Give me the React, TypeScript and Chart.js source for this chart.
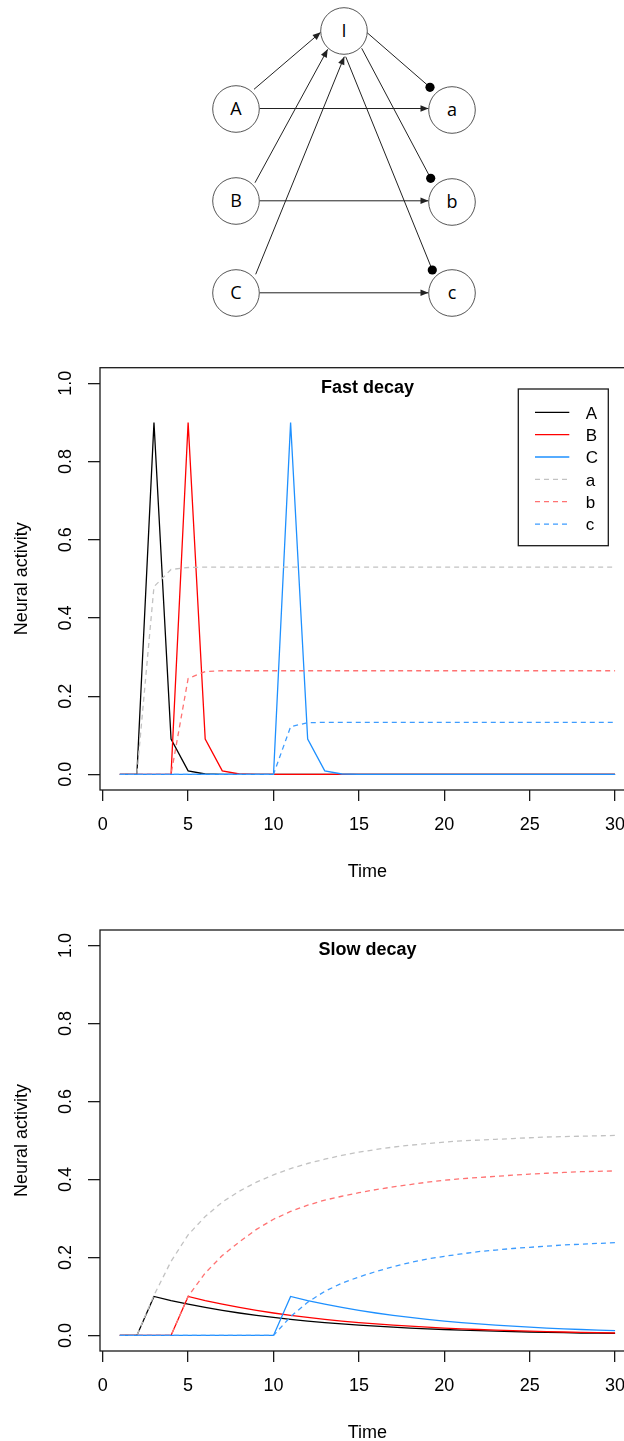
import React, { useEffect, useRef } from "react";
import { Chart, registerables } from "chart.js";

Chart.register(...registerables);

// ---------------- data ----------------
const TIME = [1, 2, 3, 4, 5, 6, 7, 8, 9, 10, 11, 12, 13, 14, 15, 16, 17, 18, 19, 20, 21, 22, 23, 24, 25, 26, 27, 28, 29, 30];
const X_TICKS = [0, 5, 10, 15, 20, 25, 30];
const Y_TICKS = [0, 0.2, 0.4, 0.6, 0.8, 1.0];
const SERIES_LABELS = ["A", "B", "C", "a", "b", "c"];
const X_TITLE = "Time";
const Y_TITLE = "Neural activity";
const FAST_TITLE = "Fast decay";
const SLOW_TITLE = "Slow decay";

const FAST_A = [0, 0, 0.9, 0.09, 0.009, 0.0009, 0.0001, 0, 0, 0, 0, 0, 0, 0, 0, 0, 0, 0, 0, 0, 0, 0, 0, 0, 0, 0, 0, 0, 0, 0];
const FAST_B = [0, 0, 0, 0, 0.9, 0.09, 0.009, 0.0009, 0.0001, 0, 0, 0, 0, 0, 0, 0, 0, 0, 0, 0, 0, 0, 0, 0, 0, 0, 0, 0, 0, 0];
const FAST_C = [0, 0, 0, 0, 0, 0, 0, 0, 0, 0, 0.9, 0.09, 0.009, 0.0009, 0.0001, 0, 0, 0, 0, 0, 0, 0, 0, 0, 0, 0, 0, 0, 0, 0];
const FAST_a = [0, 0, 0.48, 0.524, 0.529, 0.53, 0.53, 0.53, 0.53, 0.53, 0.53, 0.53, 0.53, 0.53, 0.53, 0.53, 0.53, 0.53, 0.53, 0.53, 0.53, 0.53, 0.53, 0.53, 0.53, 0.53, 0.53, 0.53, 0.53, 0.53];
const FAST_b = [0, 0, 0, 0, 0.245, 0.263, 0.265, 0.265, 0.265, 0.265, 0.265, 0.265, 0.265, 0.265, 0.265, 0.265, 0.265, 0.265, 0.265, 0.265, 0.265, 0.265, 0.265, 0.265, 0.265, 0.265, 0.265, 0.265, 0.265, 0.265];
const FAST_c = [0, 0, 0, 0, 0, 0, 0, 0, 0, 0, 0.122, 0.132, 0.133, 0.133, 0.133, 0.133, 0.133, 0.133, 0.133, 0.133, 0.133, 0.133, 0.133, 0.133, 0.133, 0.133, 0.133, 0.133, 0.133, 0.133];

const SLOW_A = [0, 0, 0.1, 0.0895, 0.0801, 0.0717, 0.0642, 0.0575, 0.0514, 0.046, 0.0412, 0.0369, 0.033, 0.0295, 0.0264, 0.0236, 0.0211, 0.0189, 0.0169, 0.0151, 0.0135, 0.0121, 0.0108, 0.0097, 0.0087, 0.0078, 0.007, 0.0062, 0.0056, 0.005];
const SLOW_B = [0, 0, 0, 0, 0.1, 0.0895, 0.0801, 0.0717, 0.0642, 0.0575, 0.0514, 0.046, 0.0412, 0.0369, 0.033, 0.0295, 0.0264, 0.0236, 0.0211, 0.0189, 0.0169, 0.0151, 0.0135, 0.0121, 0.0108, 0.0097, 0.0087, 0.0078, 0.007, 0.0062];
const SLOW_C = [0, 0, 0, 0, 0, 0, 0, 0, 0, 0, 0.1, 0.0895, 0.0801, 0.0717, 0.0642, 0.0575, 0.0514, 0.046, 0.0412, 0.0369, 0.033, 0.0295, 0.0264, 0.0236, 0.0211, 0.0189, 0.0169, 0.0151, 0.0135, 0.0121];
const SLOW_a = [0, 0, 0.103, 0.19, 0.258, 0.305, 0.342, 0.37, 0.393, 0.412, 0.428, 0.441, 0.452, 0.462, 0.47, 0.477, 0.483, 0.488, 0.492, 0.496, 0.499, 0.501, 0.503, 0.505, 0.507, 0.509, 0.51, 0.511, 0.512, 0.513];
const SLOW_b = [0, 0, 0, 0, 0.1, 0.16, 0.205, 0.24, 0.272, 0.298, 0.318, 0.334, 0.347, 0.357, 0.366, 0.374, 0.381, 0.387, 0.393, 0.398, 0.402, 0.405, 0.408, 0.411, 0.414, 0.416, 0.418, 0.42, 0.421, 0.422];
const SLOW_c = [0, 0, 0, 0, 0, 0, 0, 0, 0, 0, 0.048, 0.085, 0.113, 0.134, 0.15, 0.164, 0.176, 0.187, 0.196, 0.203, 0.209, 0.215, 0.219, 0.223, 0.226, 0.229, 0.232, 0.234, 0.236, 0.238];

// ---------------- styles ----------------
const SERIES_COLORS = ["#000000", "#ff0000", "#1e90ff", "#c2c2c2", "#ff7272", "#3d9cff"];
const SERIES_DASHED = [false, false, false, true, true, true];
const FONT = "'Liberation Sans', Arial, Helvetica, sans-serif";
const AXIS_COLOR = "#1a1a1a";

function makeDatasets(series: number[][]) {
  return series.map((vals, i) => ({
    label: SERIES_LABELS[i],
    data: TIME.map((t, j) => ({ x: t, y: vals[j] })),
    borderColor: SERIES_COLORS[i],
    backgroundColor: SERIES_COLORS[i],
    borderWidth: 1.3,
    borderDash: SERIES_DASHED[i] ? [5, 4] : [],
    pointRadius: 0,
    pointHoverRadius: 0,
    tension: 0,
    fill: false,
    order: 10 - i,
  }));
}

const rDecor = {
  id: "rDecor",
  afterDraw(chart: any, _args: any, opts: any) {
    const { ctx, chartArea: ca } = chart;
    ctx.save();
    ctx.strokeStyle = AXIS_COLOR;
    ctx.lineWidth = 1.3;
    ctx.strokeRect(ca.left, ca.top, ca.right - ca.left, ca.bottom - ca.top);

    const cx = (ca.left + ca.right) / 2;
    ctx.fillStyle = "#000";
    ctx.textAlign = "center";
    ctx.textBaseline = "alphabetic";
    ctx.font = `bold 18px ${FONT}`;
    ctx.fillText(opts.title, cx, ca.top + 25);

    ctx.font = `18px ${FONT}`;
    ctx.fillText(X_TITLE, cx, ca.bottom + 87);

    ctx.save();
    ctx.translate(27, (ca.top + ca.bottom) / 2);
    ctx.rotate(-Math.PI / 2);
    ctx.fillText(Y_TITLE, 0, 0);
    ctx.restore();

    if (opts.legend) {
      const boxL = ca.left + 418.3;
      const boxT = ca.top + 21.3;
      ctx.lineWidth = 1.3;
      ctx.strokeStyle = AXIS_COLOR;
      ctx.strokeRect(boxL, boxT, 90, 156.7);
      chart.data.datasets.forEach((ds: any, i: number) => {
        const y = boxT + 23.3 + i * 22.35;
        ctx.beginPath();
        ctx.setLineDash(ds.borderDash || []);
        ctx.strokeStyle = ds.borderColor;
        ctx.lineWidth = ds.borderWidth;
        ctx.moveTo(boxL + 16.7, y);
        ctx.lineTo(boxL + 51, y);
        ctx.stroke();
        ctx.setLineDash([]);
        ctx.fillStyle = "#000";
        ctx.textAlign = "left";
        ctx.font = `17px ${FONT}`;
        ctx.fillText(ds.label, boxL + 67.5, y + 6.3);
      });
    }
    ctx.restore();
  },
};

type DecayProps = {
  top: number;
  height: number;
  padTop: number;
  plotBottom: number;
  title: string;
  series: number[][];
  legend: boolean;
};

const CANVAS_W = 660;

function DecayChart({ top, height, padTop, plotBottom, title, series, legend }: DecayProps) {
  const ref = useRef<HTMLCanvasElement>(null);
  useEffect(() => {
    const chart = new Chart(ref.current as HTMLCanvasElement, {
      type: "line",
      data: { datasets: makeDatasets(series) as any },
      plugins: [rDecor],
      options: {
        animation: false,
        responsive: false,
        devicePixelRatio: 1,
        events: [],
        layout: { padding: { top: padTop, left: 0, right: 25.1, bottom: 0 } },
        plugins: {
          legend: { display: false },
          tooltip: { enabled: false },
          title: { display: false },
          rDecor: { title, legend },
        } as any,
        scales: {
          x: {
            type: "linear",
            min: -0.16,
            max: 31.16,
            afterBuildTicks: (scale: any) => {
              scale.ticks = X_TICKS.map((v) => ({ value: v }));
            },
            afterFit: (scale: any) => {
              scale.height = height - plotBottom;
            },
            border: { display: false },
            grid: { drawOnChartArea: false, drawTicks: true, tickLength: 11, color: AXIS_COLOR, lineWidth: 1.3 },
            ticks: {
              color: "#000",
              font: { family: FONT, size: 18 },
              padding: 13,
              minRotation: 0,
              maxRotation: 0,
              autoSkip: false,
              callback: (v: any) => String(v),
            },
          },
          y: {
            type: "linear",
            min: -0.04,
            max: 1.04,
            afterBuildTicks: (scale: any) => {
              scale.ticks = Y_TICKS.map((v) => ({ value: v }));
            },
            afterFit: (scale: any) => {
              scale.width = 100;
            },
            border: { display: false },
            grid: { drawOnChartArea: false, drawTicks: true, tickLength: 12, color: AXIS_COLOR, lineWidth: 1.3 },
            ticks: {
              color: "#000",
              font: { family: FONT, size: 18 },
              padding: 9.7,
              minRotation: 90,
              maxRotation: 90,
              crossAlign: "center",
              autoSkip: false,
              callback: (v: any) => Number(v).toFixed(1),
            },
          },
        },
      },
    });
    return () => chart.destroy();
  }, []);
  return (
    <div style={{ position: "absolute", left: 0, top, width: CANVAS_W, height }}>
      <canvas ref={ref} width={CANVAS_W} height={height} style={{ width: CANVAS_W, height, display: "block" }} />
    </div>
  );
}

// ---------------- network diagram ----------------
const NODE_R = 23.3;
const NODES: { id: string; x: number; y: number }[] = [
  { id: "I", x: 344, y: 31 },
  { id: "A", x: 236, y: 109 },
  { id: "B", x: 236, y: 201 },
  { id: "C", x: 236, y: 293 },
  { id: "a", x: 452, y: 110 },
  { id: "b", x: 452, y: 202 },
  { id: "c", x: 452, y: 293 },
];
const ARROWS = [
  [254, 89.3, 320.7, 32.3],
  [255, 182.7, 327.7, 49.3],
  [255.7, 274.3, 344.3, 56.7],
  [259.5, 108.5, 428.5, 108.5],
  [259.5, 200.8, 428.5, 200.8],
  [259.5, 292.8, 428.5, 292.8],
];
const DOTS = [
  [366.7, 32.3, 430, 87.3],
  [361.7, 48.3, 430.7, 178.3],
  [345.7, 56.7, 432.3, 270],
];

function arrowHead(x1: number, y1: number, x2: number, y2: number) {
  const dx = x2 - x1;
  const dy = y2 - y1;
  const len = Math.hypot(dx, dy);
  const ux = dx / len;
  const uy = dy / len;
  const L = 8;
  const W = 3.3;
  const bx = x2 - ux * L;
  const by = y2 - uy * L;
  return `${x2},${y2} ${bx - uy * W},${by + ux * W} ${bx + uy * W},${by - ux * W}`;
}

function Diagram() {
  return (
    <svg width={624} height={330} style={{ position: "absolute", left: 0, top: 0 }}>
      {ARROWS.map((a, i) => (
        <g key={"a" + i}>
          <line x1={a[0]} y1={a[1]} x2={a[2]} y2={a[3]} stroke="#222" strokeWidth={1} />
          <polygon points={arrowHead(a[0], a[1], a[2], a[3])} fill="#222" />
        </g>
      ))}
      {DOTS.map((d, i) => (
        <g key={"d" + i}>
          <line x1={d[0]} y1={d[1]} x2={d[2]} y2={d[3]} stroke="#222" strokeWidth={1} />
          <circle cx={d[2]} cy={d[3]} r={4.6} fill="#000" />
        </g>
      ))}
      {NODES.map((n) => (
        <g key={n.id}>
          <circle cx={n.x} cy={n.y} r={NODE_R} fill="#fff" stroke="#555" strokeWidth={1} />
          <text
            x={n.x}
            y={n.y + 6.3}
            textAnchor="middle"
            fontFamily="'Open Sans', Lato, sans-serif"
            fontSize={18}
            fill="#000"
          >
            {n.id}
          </text>
        </g>
      ))}
    </svg>
  );
}

export default function App() {
  return (
    <div
      style={{
        position: "absolute",
        left: 0,
        top: 0,
        width: 624,
        height: 1441,
        overflow: "hidden",
        background: "#fff",
      }}
    >
      <Diagram />
      <DecayChart
        top={330}
        height={570}
        padTop={37.7}
        plotBottom={460}
        title={FAST_TITLE}
        series={[FAST_A, FAST_B, FAST_C, FAST_a, FAST_b, FAST_c]}
        legend={true}
      />
      <DecayChart
        top={900}
        height={541}
        padTop={30}
        plotBottom={451}
        title={SLOW_TITLE}
        series={[SLOW_A, SLOW_B, SLOW_C, SLOW_a, SLOW_b, SLOW_c]}
        legend={false}
      />
    </div>
  );
}
